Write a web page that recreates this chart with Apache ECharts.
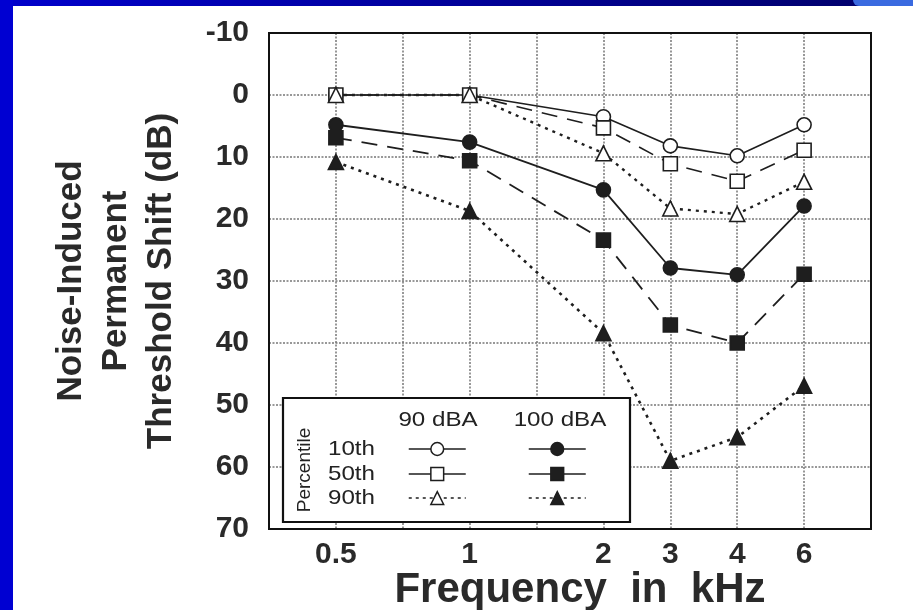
<!DOCTYPE html>
<html>
<head>
<meta charset="utf-8">
<script src="https://cdn.jsdelivr.net/npm/echarts@6/dist/echarts.min.js"></script>
<style>
html,body{margin:0;padding:0;background:#fff;}
#chart{width:913px;height:610px;}
</style>
</head>
<body>
<div id="chart"></div>
<script>
// Audiogram half-octave grid positions (kHz), left edge to right edge
const gridFreqs = [0.35, 0.5, 0.7, 1, 1.4, 2, 3, 4, 6, 8];
// Measured frequencies and their tick labels
const freqs = [0.5, 1, 2, 3, 4, 6];
const freqLabels = ['0.5', '1', '2', '3', '4', '6'];
// Y tick values (dB)
const yTicks = [-10, 0, 10, 20, 30, 40, 50, 60, 70];

// Noise-induced permanent threshold shift (dB), 90 dBA exposure
const p10_90 = [0, 0, 3.5, 8.2, 9.8, 4.8];
const p50_90 = [0, 0, 5.3, 11.1, 13.9, 8.9];
const p90_90 = [0, 0, 9.4, 18.3, 19.2, 14.0];
// 100 dBA exposure
const p10_100 = [4.8, 7.6, 15.3, 27.9, 29.0, 17.9];
const p50_100 = [6.9, 10.6, 23.4, 37.1, 40.0, 28.9];
const p90_100 = [10.8, 18.7, 38.4, 59.0, 55.2, 46.9];

const rowLabels = ['10th', '50th', '90th'];
const levelLabels = ['90 dBA', '100 dBA'];

const INK = '#1e1e1e';
const FONT = '"Liberation Sans", Arial, Helvetica, sans-serif';
const toPts = vals => freqs.map((f, i) => [gridFreqs.indexOf(f), vals[i]]);

const dashSolid = 'solid', dashLong = [16, 10], dashDot = [3, 5];

function mkSeries(name, vals, symbol, filled, dash, lw) {
  return {
    name: name,
    type: 'line',
    data: toPts(vals),
    symbol: symbol,
    symbolSize: symbol === 'triangle' ? 15 : 14,
    lineStyle: { color: INK, width: lw, type: dash },
    itemStyle: { color: filled ? INK : '#fff', borderColor: INK, borderWidth: 1.6 },
    emphasis: { disabled: true },
    animation: false,
    z: 3
  };
}

const seriesDefs = [
  mkSeries('10th 90 dBA', p10_90, 'circle', false, dashSolid, 1.6),
  mkSeries('50th 90 dBA', p50_90, 'rect', false, dashLong, 1.6),
  mkSeries('90th 90 dBA', p90_90, 'triangle', false, dashDot, 2.4),
  mkSeries('10th 100 dBA', p10_100, 'circle', true, dashSolid, 1.8),
  mkSeries('50th 100 dBA', p50_100, 'rect', true, dashLong, 1.8),
  mkSeries('90th 100 dBA', p90_100, 'triangle', true, dashDot, 2.6)
];

// legend table geometry
const legBox = { x: 283, y: 398, w: 347, h: 124 };
const rowY = [449, 474, 498];
const colX = [408, 528];
const legends = [];
seriesDefs.forEach((s, i) => {
  const col = i < 3 ? 0 : 1;
  const row = i % 3;
  legends.push({
    data: [s.name],
    left: colX[col],
    top: rowY[row] - 8,
    itemWidth: 57,
    itemHeight: 16,
    padding: 0,
    itemGap: 0,
    selectedMode: false,
    formatter: () => '',
    textStyle: { fontSize: 8, padding: 0 },
    lineStyle: { color: INK, width: 1.5, type: row === 2 ? [3, 4] : 'solid' },
    itemStyle: { borderWidth: 1.5, borderColor: INK },
    z: 10
  });
});

const legendGraphics = [
  { type: 'rect', shape: { x: legBox.x, y: legBox.y, width: legBox.w, height: legBox.h },
    style: { fill: '#fff', stroke: '#111', lineWidth: 2.2 }, z: 5 },
  { type: 'text', x: 305, y: 470, rotation: Math.PI / 2,
    style: { text: 'Percentile', font: '19px ' + FONT, fill: '#222', align: 'center', verticalAlign: 'middle' }, z: 6 },
  { type: 'text', x: 438, y: 420, scaleX: 1.15,
    style: { text: levelLabels[0], font: '21px ' + FONT, fill: '#222', align: 'center', verticalAlign: 'middle' }, z: 6 },
  { type: 'text', x: 560, y: 420, scaleX: 1.15,
    style: { text: levelLabels[1], font: '21px ' + FONT, fill: '#222', align: 'center', verticalAlign: 'middle' }, z: 6 }
];
rowLabels.forEach((t, r) => {
  legendGraphics.push({ type: 'text', x: 328, y: rowY[r], scaleX: 1.15,
    style: { text: t, font: '21px ' + FONT, fill: '#222', align: 'left', verticalAlign: 'middle' }, z: 6 });
});

const frameGraphics = [
  { type: 'rect', shape: { x: 0, y: 0, width: 913, height: 6 },
    style: { fill: new echarts.graphic.LinearGradient(0, 0, 1, 0, [
      { offset: 0, color: '#0000cc' }, { offset: 1, color: '#000068' }]) }, z: 20 },
  { type: 'rect', shape: { x: 853, y: 0, width: 60, height: 6, r: [0, 0, 0, 6] },
    style: { fill: '#3a6ae0' }, z: 21 },
  { type: 'rect', shape: { x: 0, y: 0, width: 13, height: 610 },
    style: { fill: '#0000d2' }, z: 20 }
];

const chart = echarts.init(document.getElementById('chart'), null, { renderer: 'canvas' });
chart.setOption({
  backgroundColor: '#fff',
  animation: false,
  grid: { left: 269, top: 33, width: 602, height: 496, show: true, borderColor: '#111', borderWidth: 2,
          backgroundColor: 'transparent', containLabel: false, outerBoundsMode: 'none', z: 4 },
  xAxis: {
    type: 'value', min: 0, max: gridFreqs.length - 1, interval: 1,
    axisLine: { show: true, onZero: false, lineStyle: { color: '#111', width: 2 } },
    axisTick: { show: false },
    splitLine: { show: true, lineStyle: { color: '#777', width: 1.5, type: [2, 1.5] } },
    axisLabel: {
      margin: 11,
      color: '#2a2a2a', fontSize: 30, fontWeight: 'bold', fontFamily: FONT,
      formatter: v => { const f = gridFreqs[Math.round(v)]; const k = freqs.indexOf(f); return k >= 0 ? freqLabels[k] : ''; }
    },
    name: 'Frequency  in  kHz', nameLocation: 'middle', nameGap: 40, nameMoveOverlap: false,
    nameTextStyle: { color: '#2a2a2a', fontSize: 42, fontWeight: 'bold', fontFamily: FONT, padding: [0, 0, 0, 20] }
  },
  yAxis: {
    type: 'value', inverse: true, min: yTicks[0], max: yTicks[yTicks.length - 1], interval: 10,
    axisLine: { show: true, onZero: false, lineStyle: { color: '#111', width: 2 } },
    axisTick: { show: false },
    splitLine: { show: true, lineStyle: { color: '#777', width: 1.5, type: [2, 1.5] } },
    axisLabel: {
      margin: 20,
      color: '#2a2a2a', fontSize: 30, fontWeight: 'bold', fontFamily: FONT
    },
    name: 'Noise-Induced\nPermanent\nThreshold Shift (dB)', nameLocation: 'middle', nameGap: 85, nameRotate: 90,
    nameMoveOverlap: false,
    nameTextStyle: { color: '#2a2a2a', fontSize: 35, lineHeight: 45, fontWeight: 'bold', fontFamily: FONT, align: 'center' }
  },
  legend: legends,
  graphic: frameGraphics.concat(legendGraphics),
  series: seriesDefs
});
</script>
</body>
</html>
